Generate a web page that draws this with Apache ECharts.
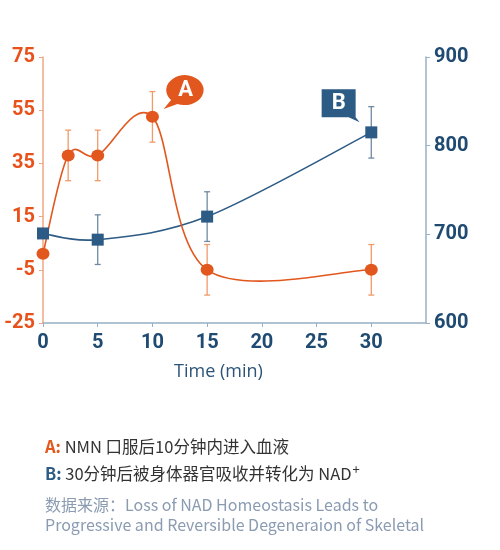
<!DOCTYPE html>
<html>
<head>
<meta charset="utf-8">
<script src="https://cdn.jsdelivr.net/npm/echarts@6/dist/echarts.min.js"></script>
<style>
	html, body { margin:0; padding:0; background:#fff; }
	#main { width:500px; height:550px; }
</style>
</head>
<body>
<div id="main"></div>
<script>
	// NMN (A) - left axis
	var timesA = [0, 2.3, 5, 10, 15, 30];
	var valuesA = [1, 38, 38, 52.5, -5, -5];
	var errA = [0, 9.5, 9.5, 9.5, 9.5, 9.5];
	// NAD+ (B) - right axis
	var timesB = [0, 5, 15, 30];
	var valuesB = [701, 694, 720, 815];
	var errB = [0, 28, 28, 29];

	var xTicks = [0, 5, 10, 15, 20, 25, 30];
	var leftTicks = [-25, -5, 15, 35, 55, 75];
	var rightTicks = [600, 700, 800, 900];

	var orange = '#e2571e';
	var navy = '#2c5b85';

	function pairs(xs, ys) {
		return xs.map(function(x, i){ return [x, ys[i]]; });
	}
	function errData(xs, ys, es) {
		return xs.map(function(x, i){ return [x, ys[i] - es[i], ys[i] + es[i]]; });
	}
	function errRender(color) {
		return function(params, api) {
			if (api.value(2) === api.value(1)) { return; }
			var lo = api.coord([api.value(0), api.value(1)]);
			var hi = api.coord([api.value(0), api.value(2)]);
			var s = { stroke: color, lineWidth: 1.3 };
			return {
				type: 'group',
				children: [
					{ type: 'line', shape: { x1: lo[0], y1: lo[1], x2: hi[0], y2: hi[1] }, style: s },
					{ type: 'line', shape: { x1: lo[0]-3, y1: lo[1], x2: lo[0]+3, y2: lo[1] }, style: s },
					{ type: 'line', shape: { x1: hi[0]-3, y1: hi[1], x2: hi[0]+3, y2: hi[1] }, style: s }
				]
			};
		};
	}
	// catmull-rom curve through the points, built in pixel space
	function splineRender(xs, ys, color) {
		return function(params, api) {
			if (params.dataIndex !== 0) { return; }
			var p = xs.map(function(x, i){ return api.coord([x, ys[i]]); });
			var d = 'M' + p[0][0] + ',' + p[0][1];
			for (var i = 0; i < p.length - 1; i++) {
				var p0 = p[Math.max(i - 1, 0)], p1 = p[i], p2 = p[i + 1], p3 = p[Math.min(i + 2, p.length - 1)];
				var c1 = [p1[0] + (p2[0] - p0[0]) / 6, p1[1] + (p2[1] - p0[1]) / 6];
				var c2 = [p2[0] - (p3[0] - p1[0]) / 6, p2[1] - (p3[1] - p1[1]) / 6];
				d += ' C' + c1.join(',') + ' ' + c2.join(',') + ' ' + p2.join(',');
			}
			return { type: 'path', shape: { pathData: d }, style: { stroke: color, lineWidth: 1.6, fill: null } };
		};
	}

	var chart = echarts.init(document.getElementById('main'));
	chart.setOption({
		animation: false,
		grid: { left: 43, right: 74, top: 57, bottom: 227 },
		xAxis: {
			type: 'value', min: 0, max: 35,
			name: 'Time (min)', nameLocation: 'middle', nameGap: 40,
			nameTextStyle: { color: '#2d5478', fontSize: 18, fontFamily: 'Open Sans', padding: [0, 32, 0, 0] },
			axisLine: { onZero: false, lineStyle: { color: '#98b0c4', width: 1.5 } },
			axisTick: { customValues: xTicks, length: 4, lineStyle: { color: '#98b0c4' } },
			axisLabel: { customValues: xTicks, color: '#1f4a72', fontSize: 20, fontWeight: 'bold', fontFamily: 'Roboto', margin: 10 },
			splitLine: { show: false }
		},
		yAxis: [{
			type: 'value', min: -25, max: 75, position: 'left',
			axisLine: { show: true, lineStyle: { color: '#f0a681', width: 1.5 } },
			axisTick: { show: true, customValues: leftTicks, length: 4, lineStyle: { color: '#f0a681' } },
			axisLabel: { customValues: leftTicks, color: '#e8521a', fontSize: 20, fontWeight: 'bold', fontFamily: 'Roboto', margin: 8 },
			splitLine: { show: false }
		}, {
			type: 'value', min: 600, max: 900, interval: 100, position: 'right',
			axisLine: { show: true, lineStyle: { color: '#98b0c4', width: 1.5 } },
			axisTick: { show: true, customValues: rightTicks, length: 4, lineStyle: { color: '#98b0c4' } },
			axisLabel: { customValues: rightTicks, color: '#1f4a72', fontSize: 20, fontWeight: 'bold', fontFamily: 'Roboto', margin: 8 },
			splitLine: { show: false }
		}],
		series: [{
			type: 'custom', yAxisIndex: 0, z: 1,
			renderItem: errRender('#f09a68'),
			data: errData(timesA, valuesA, errA)
		}, {
			type: 'custom', yAxisIndex: 1, z: 1,
			renderItem: errRender('#6f8aa3'),
			data: errData(timesB, valuesB, errB)
		}, {
			type: 'custom', yAxisIndex: 1, z: 2, clip: false,
			renderItem: splineRender(timesB, valuesB, navy),
			data: pairs(timesB, valuesB)
		}, {
			type: 'custom', yAxisIndex: 0, z: 2, clip: false,
			renderItem: splineRender(timesA, valuesA, orange),
			data: pairs(timesA, valuesA)
		}, {
			type: 'line', yAxisIndex: 1, z: 3,
			symbol: 'rect', symbolSize: 12,
			lineStyle: { width: 0, opacity: 0 },
			itemStyle: { color: navy },
			data: pairs(timesB, valuesB),
			markPoint: {
				silent: true,
				symbol: 'path://M0,0 L34,0 L34,28 L38,33 L27,28 L0,28 Z',
				symbolSize: [38, 33], symbolKeepAspect: false,
				itemStyle: { color: '#2c5b85' },
				label: { show: true, formatter: 'B', color: '#fff', fontSize: 22, fontWeight: 'bold', fontFamily: 'Roboto', offset: [-2, -2] },
				data: [{ coord: [27.2, 845] }]
			}
		}, {
			type: 'line', yAxisIndex: 0, z: 4,
			symbol: 'circle', symbolSize: [13, 12],
			lineStyle: { width: 0, opacity: 0 },
			itemStyle: { color: orange },
			data: pairs(timesA, valuesA),
			markPoint: {
				silent: true,
				symbol: 'path://M22,0 A18,15 0 1 1 15,29 L2,34 L9,25 A18,15 0 0 1 22,0 Z',
				symbolSize: [40, 34], symbolKeepAspect: false,
				itemStyle: { color: '#e2571e' },
				label: { show: true, formatter: 'A', color: '#fff', fontSize: 22, fontWeight: 'bold', fontFamily: 'Roboto', offset: [2, -2] },
				data: [{ coord: [12.85, 61.8] }]
			}
		}],
		graphic: [{
			type: 'text', left: 45, top: 438,
			style: {
				text: '{a|A:} NMN 口服后10分钟内进入血液',
				fill: '#333', font: '16.5px "Noto Sans CJK SC"',
				rich: { a: { fill: '#e2571e', fontWeight: 'bold', fontSize: 16.5, fontFamily: 'Noto Sans CJK SC' } }
			}
		}, {
			type: 'text', left: 45, top: 463,
			style: {
				text: '{b|B:} 30分钟后被身体器官吸收并转化为 NAD{s|+}',
				fill: '#333', font: '16.5px "Noto Sans CJK SC"',
				rich: {
					b: { fill: '#2c5b85', fontWeight: 'bold', fontSize: 16.5, fontFamily: 'Noto Sans CJK SC' },
					s: { fill: '#333', fontSize: 13, fontFamily: 'Noto Sans CJK SC', padding: [0, 0, 8, 1] }
				}
			}
		}, {
			type: 'text', left: 45, top: 495,
			style: {
				text: '数据来源：Loss of NAD Homeostasis Leads to\nProgressive and Reversible Degeneraion of Skeletal',
				fill: '#8a9bb2', font: '16px "Noto Sans CJK SC"', lineHeight: 20
			}
		}]
	});
</script>
</body>
</html>
